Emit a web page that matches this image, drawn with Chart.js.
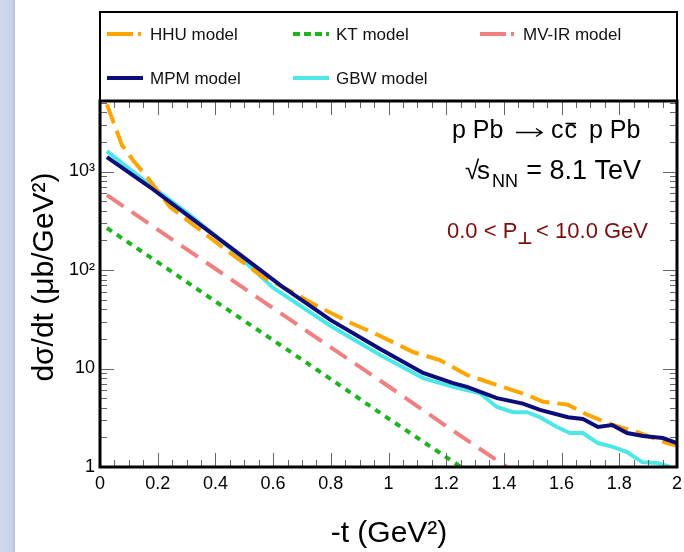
<!DOCTYPE html>
<html>
<head>
<meta charset="utf-8">
<script src="https://cdn.jsdelivr.net/npm/chart.js@4/dist/chart.umd.min.js"></script>
<style>
  html, body { margin: 0; padding: 0; background: #fff; }
  canvas { display: block; }
</style>
</head>
<body>
<canvas id="dsdtChart" width="684" height="552"></canvas>
<script>
var FONT = '"Liberation Sans", Arial, sans-serif';

// data (-t in GeV^2, dsigma/dt in ub/GeV^2)
var hhuT   = [0.024, 0.076, 0.114, 0.166, 0.243, 0.347, 0.451, 0.565, 0.652, 0.76, 0.87, 0.971, 1.085, 1.178, 1.272, 1.376, 1.48, 1.536, 1.622, 1.688, 1.778, 1.861, 1.965, 2.0];
var hhuVal = [4800, 1860, 1310, 860, 436, 255, 149, 85, 63, 42, 29, 21.4, 14.7, 12.2, 8.6, 6.8, 5.4, 4.6, 4.3, 3.4, 2.67, 2.27, 1.75, 1.65];

var ktT    = [0.024, 0.2, 0.4, 0.6, 0.8, 1.0, 1.2, 1.251];
var ktVal  = [267, 120, 48, 19.4, 7.8, 3.1, 1.26, 1.0];

var mvT    = [0.024, 0.2, 0.4, 0.6, 0.8, 1.0, 1.2, 1.41];
var mvVal  = [577, 257, 103, 41, 16.4, 6.6, 2.6, 1.0];

var mpmT   = [0.024, 0.173, 0.312, 0.451, 0.634, 0.8, 0.971, 1.12, 1.224, 1.272, 1.376, 1.466, 1.525, 1.622, 1.674, 1.726, 1.775, 1.827, 1.882, 1.951, 2.0];
var mpmVal = [1400, 696, 345, 171, 67, 31, 15.8, 9.0, 7.1, 6.5, 5.0, 4.4, 3.8, 3.2, 3.07, 2.55, 2.67, 2.21, 2.06, 1.97, 1.75];

var gbwT   = [0.024, 0.173, 0.312, 0.451, 0.6, 0.8, 0.971, 1.12, 1.224, 1.317, 1.376, 1.432, 1.48, 1.525, 1.584, 1.629, 1.674, 1.726, 1.778, 1.827, 1.879, 1.931, 1.976];
var gbwVal = [1610, 729, 362, 166, 66, 27, 13.7, 8.0, 6.5, 5.6, 4.07, 3.6, 3.6, 3.2, 2.55, 2.21, 2.21, 1.75, 1.6, 1.42, 1.12, 1.1, 1.0];

var xTickLabels = ["0", "0.2", "0.4", "0.6", "0.8", "1", "1.2", "1.4", "1.6", "1.8", "2"];
var yTicks = [1, 10, 100, 1000];
var yTickLabels = ["1", "10", "10\u00B2", "10\u00B3"];

function pts(t, v) {
  return t.map(function (x, i) { return { x: x, y: v[i] }; });
}

var ctx = document.getElementById('dsdtChart');

// legend + annotations + ROOT-style frame drawn by hand
var frameAndText = {
  id: 'frameAndText',
  beforeDraw: function (chart) {
    var c = chart.ctx;
    var g = c.createLinearGradient(0, 0, 15, 0);
    g.addColorStop(0, '#cfd9ee');
    g.addColorStop(0.75, '#c9d4eb');
    g.addColorStop(1, '#b9c5df');
    c.fillStyle = g;
    c.fillRect(0, 0, 15, chart.height);
  },
  afterDraw: function (chart) {
    var c = chart.ctx, a = chart.chartArea;
    var xs = chart.scales.x, ys = chart.scales.y;
    c.save();

    // ticks inside the frame
    c.strokeStyle = '#666';
    c.lineWidth = 1;
    c.beginPath();
    for (var i = 0; i <= 40; i++) {
      var px = Math.round(xs.getPixelForValue(i * 0.05)) + 0.5;
      var len = (i % 4 === 0) ? 14 : 7;
      c.moveTo(px, a.bottom); c.lineTo(px, a.bottom - len);
      c.moveTo(px, a.top); c.lineTo(px, a.top + len);
    }
    for (var d = 0; d <= 3; d++) {
      for (var m = 1; m <= 9; m++) {
        var v = m * Math.pow(10, d);
        if (v > ys.max) break;
        var py = Math.round(ys.getPixelForValue(v)) + 0.5;
        var l2 = (m === 1) ? 14 : 7;
        c.moveTo(a.left, py); c.lineTo(a.left + l2, py);
        c.moveTo(a.right, py); c.lineTo(a.right - l2, py);
      }
    }
    c.stroke();

    // frames
    c.strokeStyle = '#000';
    c.lineWidth = 2;
    c.strokeRect(a.left, 12, a.right - a.left, a.top - 12);
    c.lineWidth = 3;
    c.strokeRect(a.left, a.top, a.right - a.left, a.bottom - a.top);

    // legend
    var leg = [
      { name: 'HHU model',   col: '#ffa500', dash: [26, 5, 3, 40], x: 107, y: 34 },
      { name: 'KT model',    col: '#1fb41f', dash: [7, 4],         x: 293, y: 34 },
      { name: 'MV-IR model', col: '#f08080', dash: [26, 5, 3, 40], x: 480, y: 34 },
      { name: 'MPM model',   col: '#0d0d7a', dash: [],             x: 107, y: 78 },
      { name: 'GBW model',   col: '#4ee6e6', dash: [],             x: 293, y: 78 }
    ];
    c.font = '17px ' + FONT;
    c.textBaseline = 'middle';
    c.textAlign = 'left';
    leg.forEach(function (it) {
      c.beginPath();
      c.strokeStyle = it.col;
      c.lineWidth = 4;
      c.setLineDash(it.dash);
      c.moveTo(it.x, it.y); c.lineTo(it.x + 36, it.y);
      c.stroke();
      c.setLineDash([]);
      c.fillStyle = '#111';
      c.fillText(it.name, it.x + 43, it.y + 1);
    });

    // process label: p Pb -> c cbar p Pb
    c.fillStyle = '#000';
    c.strokeStyle = '#000';
    c.font = '25px ' + FONT;
    c.fillText('p Pb', 452, 131);
    c.lineWidth = 1.5;
    c.beginPath();
    c.moveTo(516, 132.5); c.lineTo(542, 132.5);
    c.moveTo(536, 128.5); c.lineTo(542, 132.5); c.lineTo(536, 136.5);
    c.stroke();
    var wc = c.measureText('c').width;
    c.fillText('c', 551, 131);
    c.fillText('c', 551 + wc + 1, 131);
    c.beginPath();
    c.moveTo(551 + wc + 2, 123.5); c.lineTo(551 + 2 * wc, 123.5);
    c.stroke();
    c.fillText('p Pb', 589, 131);

    // sqrt(s_NN)
    c.font = '26px ' + FONT;
    c.fillText('\u221A', 465, 172);
    c.fillText('s', 477, 172);
    c.font = '18px ' + FONT;
    c.fillText('NN', 492, 182);
    c.font = '27px ' + FONT;
    c.textAlign = 'right';
    c.fillText('= 8.1 TeV', 641, 172);
    c.textAlign = 'left';

    // P_perp range
    c.fillStyle = '#7a0e0e';
    c.font = '22px ' + FONT;
    var q1 = '0.0 < P';
    var wq1 = c.measureText(q1).width;
    c.fillText(q1, 447, 232);
    c.font = 'bold 17px "DejaVu Sans", ' + FONT;
    c.fillText('\u22A5', 447 + wq1, 240);
    c.font = '22px ' + FONT;
    c.textAlign = 'right';
    c.fillText('< 10.0 GeV', 648, 232);
    c.textAlign = 'left';

    // axis titles
    c.fillStyle = '#000';
    c.font = '30px ' + FONT;
    c.textAlign = 'center';
    c.fillText('-t (GeV\u00B2)', 389, 534);
    c.save();
    c.translate(45, 277);
    c.rotate(-Math.PI / 2);
    c.fillText('d\u03C3/dt (\u03BCb/GeV\u00B2)', 0, 0);
    c.restore();

    c.restore();
  }
};

var dsdtChart = new Chart(ctx, {
  type: 'line',
  data: {
    datasets: [
      { label: 'MPM model', data: pts(mpmT, mpmVal), borderColor: '#0d0d7a', borderWidth: 4 },
      { label: 'HHU model', data: pts(hhuT, hhuVal), borderColor: '#ffa500', borderWidth: 4, borderDash: [20, 8] },
      { label: 'GBW model', data: pts(gbwT, gbwVal), borderColor: '#4ee6e6', borderWidth: 4 },
      { label: 'MV-IR model', data: pts(mvT, mvVal), borderColor: '#f08080', borderWidth: 4, borderDash: [20, 10] },
      { label: 'KT model', data: pts(ktT, ktVal), borderColor: '#1fb41f', borderWidth: 4, borderDash: [6, 6] }
    ]
  },
  options: {
    responsive: false,
    animation: false,
    layout: { padding: { top: 101, right: 7, left: 0, bottom: 0 } },
    elements: {
      point: { radius: 0 },
      line: { tension: 0, fill: false, borderCapStyle: 'butt' }
    },
    plugins: {
      legend: { display: false },
      tooltip: { enabled: false }
    },
    scales: {
      x: {
        type: 'linear',
        min: 0,
        max: 2,
        grid: { display: false, drawTicks: false },
        border: { display: false },
        ticks: {
          stepSize: 0.2,
          padding: 6,
          color: '#000',
          font: { family: FONT, size: 18 },
          callback: function (v) {
            var i = Math.round(v / 0.2);
            return xTickLabels[i];
          }
        },
        afterFit: function (s) { s.height = 85; s.paddingLeft = 0; s.paddingRight = 0; }
      },
      y: {
        type: 'logarithmic',
        min: 1,
        max: 5200,
        grid: { display: false, drawTicks: false },
        border: { display: false },
        afterBuildTicks: function (s) {
          s.ticks = yTicks.map(function (v) { return { value: v }; });
        },
        ticks: {
          padding: 5,
          color: '#000',
          font: { family: FONT, size: 18 },
          callback: function (v) {
            var i = yTicks.indexOf(v);
            return i >= 0 ? yTickLabels[i] : '';
          }
        },
        afterFit: function (s) { s.width = 100; s.paddingTop = 0; s.paddingBottom = 0; }
      }
    }
  },
  plugins: [frameAndText]
});
</script>
</body>
</html>
